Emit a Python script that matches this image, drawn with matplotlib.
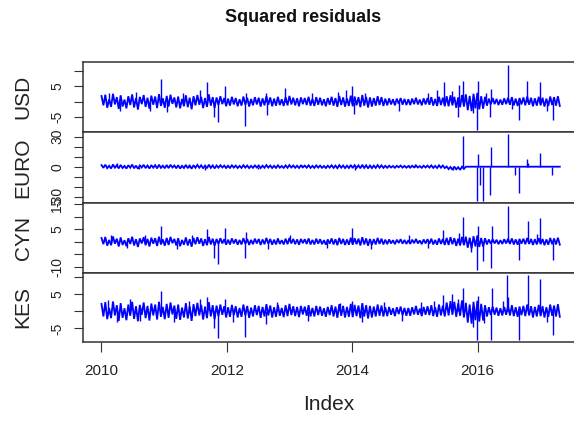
import numpy as np
import matplotlib
matplotlib.use("Agg")
import matplotlib.pyplot as plt

plt.rcParams['font.family'] = ['Liberation Sans', 'DejaVu Sans']

# index range of the residual series (decimal years)
t_start, t_end = 2010.0, 2017.31

# base band of each residual series, sampled evenly over the index range
usd_base = [1.9, -1.2, 2.3, -2.0, 0.8, -1.7, 2.6, -0.9, 1.5, -2.4,
            2.1, -1.6, 0.7, -2.2, 1.8, -1.1, 2.4, -1.9, 1.2, -2.6,
            1.6, -0.8, 2.2, -1.7, 1.3, -2.3, 2.0, -1.0, 1.7, -2.1,
            2.5, -1.4, 1.1, -2.0, 1.9, -1.6, 2.3, -0.7, 1.4, -1.9,
            1.7, -2.2, 0.9, -1.5, 2.1, -1.8, 1.3, -2.5, 1.8, -1.2,
            2.2, -1.0, 1.6, -2.1, 1.2, -1.7, 2.4, -1.3, 1.5, -2.0,
            1.4, -1.1, 1.8, -0.8, 1.2, -1.5, 1.0, -1.3, 1.6, -0.9,
            1.2, -1.5, 0.8, -1.3, 1.7, -1.0, 1.3, -1.6, 0.9, -1.2,
            1.5, -0.9, 1.3, -1.6, 1.1, -1.2, 1.8, -1.0, 1.4, -1.5,
            1.0, -1.3, 1.6, -1.1, 0.8, -1.4, 1.5, -1.2, 1.9, -0.9,
            1.3, -1.2, 1.1, -1.5, 1.4, -0.8, 1.2, -1.1, 1.6, -1.3,
            0.9, -1.4, 1.5, -1.0, 1.3, -1.2, 0.8, -1.5, 1.2, -1.0,
            1.6, -1.3, 1.2, -1.7, 1.9, -1.1, 1.4, -1.6, 1.1, -1.4,
            2.0, -1.5, 1.7, -1.2, 1.5, -1.8, 2.2, -1.3, 1.6, -1.9,
            1.4, -1.6, 1.2, -1.3, 1.8, -1.1, 1.5, -1.4, 1.0, -1.2,
            1.1, -0.9, 0.8, -1.2, 1.0, -0.7, 1.2, -1.0, 0.9, -1.1,
            0.8, -1.1, 1.0, -0.8, 1.3, -0.9, 0.7, -1.2, 1.1, -0.9,
            1.2, -1.0, 1.5, -1.3, 0.9, -1.4, 1.6, -1.1, 1.3, -1.5,
            1.8, -1.5, 2.1, -1.2, 1.6, -2.0, 1.4, -1.8, 2.2, -1.6,
            2.4, -2.8, 1.9, -3.1, 2.6, -2.2, 2.9, -2.5, 1.8, -2.3,
            1.6, -1.3, 1.0, -0.9, 1.2, -0.8, 0.9, -1.1, 0.7, -1.0,
            1.1, -0.8, 1.3, -1.0, 1.5, -1.2, 1.0, -1.4, 1.2, -0.9,
            1.4, -1.2, 1.7, -1.0, 1.3, -1.5, 1.1, -1.3, 1.6, -1.2,
            1.3, -1.6, 1.0, -1.4, 1.7, -1.1, 1.5, -1.3, 1.8, -1.4]

euro_base = [1.6, -1.1, 2.0, -1.5, 0.9, -1.8, 2.2, -1.0, 1.4, -1.7,
             1.8, -1.3, 0.8, -1.9, 1.5, -1.0, 2.1, -1.6, 1.1, -2.0,
             1.3, -0.8, 1.9, -1.4, 1.2, -1.8, 1.6, -1.0, 1.5, -1.7,
             2.0, -1.2, 1.0, -1.6, 1.7, -1.4, 1.9, -0.8, 1.2, -1.6,
             1.5, -1.8, 0.9, -1.3, 1.8, -1.5, 1.2, -2.0, 1.5, -1.1,
             1.8, -1.0, 1.4, -1.7, 1.1, -1.5, 2.0, -1.2, 1.3, -1.7,
             1.2, -1.0, 1.5, -0.8, 1.1, -1.3, 0.9, -1.2, 1.4, -0.9,
             1.1, -1.3, 0.8, -1.2, 1.5, -0.9, 1.2, -1.4, 0.8, -1.1,
             1.3, -0.8, 1.2, -1.4, 1.0, -1.1, 1.6, -0.9, 1.2, -1.3,
             0.9, -1.2, 1.4, -1.0, 0.7, -1.2, 1.3, -1.1, 1.6, -0.8,
             1.2, -1.1, 1.0, -1.3, 1.2, -0.7, 1.1, -1.0, 1.4, -1.2,
             0.8, -1.2, 1.3, -0.9, 1.1, -1.1, 0.7, -1.3, 1.0, -0.9,
             1.4, -1.2, 1.1, -1.5, 1.6, -1.0, 1.2, -1.4, 1.0, -1.3,
             1.7, -1.3, 1.5, -1.1, 1.3, -1.6, 1.9, -1.2, 1.4, -1.7,
             1.2, -1.4, 1.1, -1.2, 1.6, -1.0, 1.3, -1.2, 0.9, -1.1,
             1.0, -0.8, 0.7, -1.1, 0.9, -0.6, 1.1, -0.9, 0.8, -1.0,
             0.7, -1.0, 0.9, -0.7, 1.2, -0.8, 0.6, -1.1, 1.0, -0.8,
             1.1, -0.9, 1.3, -1.2, 0.8, -1.3, 1.4, -1.0, 1.2, -1.4,
             0.2, -2.4, -0.3, -3.0, 0.1, -2.6, -0.5, -3.2, 0.0, -2.2,
             0.0, 0.0, 0.0, 0.0, 0.0, 0.0, 0.0, 0.0, 0.0, 0.0,
             0.0, 0.0, 0.0, 0.0, 0.0, 0.0, 0.0, 0.0, 0.0, 0.0,
             0.0, 0.0, 0.0, 0.0, 0.0, 0.0, 0.0, 0.0, 0.0, 0.0,
             0.0, 0.0, 0.0, 0.0, 0.0, 0.0, 0.0, 0.0, 0.0, 0.0,
             0.0, 0.0, 0.0, 0.0, 0.0, 0.0, 0.0, 0.0, 0.0, 0.0]

cyn_base = [1.5, -1.0, 1.9, -1.6, 0.7, -1.4, 2.1, -0.8, 1.2, -1.9,
            1.7, -1.3, 0.6, -1.8, 1.4, -0.9, 2.0, -1.5, 1.0, -2.1,
            1.3, -0.7, 1.8, -1.4, 1.1, -1.9, 1.6, -0.8, 1.4, -1.7,
            2.0, -1.1, 0.9, -1.6, 1.5, -1.3, 1.9, -0.6, 1.1, -1.5,
            1.4, -1.8, 0.7, -1.2, 1.7, -1.5, 1.0, -2.0, 1.5, -1.0,
            1.8, -0.8, 1.3, -1.7, 1.0, -1.4, 1.9, -1.1, 1.2, -1.6,
            1.1, -0.9, 1.4, -0.7, 1.0, -1.2, 0.8, -1.1, 1.3, -0.7,
            1.0, -1.2, 0.7, -1.1, 1.4, -0.8, 1.1, -1.3, 0.7, -1.0,
            1.2, -0.7, 1.1, -1.3, 0.9, -1.0, 1.5, -0.8, 1.1, -1.2,
            0.8, -1.1, 1.3, -0.9, 0.6, -1.1, 1.2, -1.0, 1.5, -0.7,
            1.1, -1.0, 0.9, -1.2, 1.1, -0.6, 1.0, -0.9, 1.3, -1.1,
            0.7, -1.1, 1.2, -0.8, 1.0, -1.0, 0.6, -1.2, 0.9, -0.8,
            1.3, -1.1, 1.0, -1.4, 1.5, -0.9, 1.1, -1.3, 0.9, -1.2,
            1.6, -1.2, 1.4, -1.0, 1.2, -1.5, 1.8, -1.1, 1.3, -1.6,
            1.1, -1.3, 1.0, -1.1, 1.5, -0.9, 1.2, -1.1, 0.8, -1.0,
            0.9, -0.7, 0.6, -1.0, 0.8, -0.5, 1.0, -0.8, 0.7, -0.9,
            0.6, -0.9, 0.8, -0.6, 1.1, -0.7, 0.5, -1.0, 0.9, -0.7,
            1.0, -0.8, 1.2, -1.1, 0.7, -1.2, 1.3, -0.9, 1.1, -1.3,
            1.5, -1.3, 1.8, -1.0, 1.4, -1.7, 1.2, -1.5, 1.9, -1.4,
            2.0, -2.4, 1.6, -2.7, 2.2, -1.9, 2.5, -2.1, 1.5, -2.0,
            1.4, -1.1, 0.9, -0.8, 1.0, -0.7, 0.8, -1.0, 0.6, -0.9,
            1.0, -0.7, 1.2, -0.9, 1.3, -1.1, 0.9, -1.2, 1.1, -0.8,
            1.2, -1.0, 1.5, -0.9, 1.1, -1.3, 1.0, -1.1, 1.4, -1.0,
            1.1, -1.4, 0.9, -1.2, 1.5, -1.0, 1.3, -1.1, 1.6, -1.2]

kes_base = [2.2, -1.5, 2.7, -2.3, 1.0, -2.0, 2.9, -1.2, 1.8, -2.8,
            2.4, -1.9, 0.9, -2.6, 2.0, -1.3, 2.8, -2.2, 1.5, -2.9,
            1.9, -1.0, 2.6, -2.0, 1.6, -2.7, 2.3, -1.2, 2.0, -2.4,
            2.8, -1.6, 1.3, -2.3, 2.2, -1.9, 2.6, -0.9, 1.7, -2.2,
            2.0, -2.5, 1.1, -1.8, 2.4, -2.1, 1.5, -2.8, 2.1, -1.4,
            2.5, -1.2, 1.9, -2.4, 1.4, -2.0, 2.7, -1.5, 1.8, -2.3,
            1.7, -1.4, 2.0, -1.0, 1.5, -1.8, 1.2, -1.6, 1.9, -1.1,
            1.5, -1.8, 1.0, -1.6, 2.0, -1.2, 1.6, -1.9, 1.1, -1.5,
            1.8, -1.1, 1.6, -1.9, 1.3, -1.5, 2.1, -1.2, 1.7, -1.8,
            1.2, -1.6, 1.9, -1.3, 1.0, -1.7, 1.8, -1.4, 2.2, -1.1,
            1.5, -1.4, 1.3, -1.7, 1.6, -0.9, 1.4, -1.3, 1.8, -1.5,
            1.0, -1.5, 1.6, -1.1, 1.4, -1.3, 0.9, -1.6, 1.3, -1.1,
            1.8, -1.5, 1.4, -1.9, 2.1, -1.3, 1.6, -1.8, 1.3, -1.6,
            2.2, -1.7, 1.9, -1.4, 1.7, -2.0, 2.4, -1.5, 1.8, -2.1,
            1.6, -1.8, 1.4, -1.5, 2.0, -1.3, 1.7, -1.5, 1.2, -1.4,
            1.3, -1.0, 0.9, -1.4, 1.2, -0.8, 1.4, -1.1, 1.0, -1.3,
            1.0, -1.3, 1.2, -0.9, 1.6, -1.0, 0.8, -1.4, 1.3, -1.0,
            1.5, -1.1, 1.8, -1.4, 1.2, -1.6, 2.0, -1.2, 1.7, -1.5,
            2.6, -1.2, 3.0, -1.0, 2.8, -1.6, 2.4, -1.3, 3.2, -1.8,
            2.5, -3.3, 2.0, -3.6, 2.8, -2.6, 3.1, -3.0, 2.2, -2.7,
            1.8, -1.5, 1.2, -1.1, 1.4, -1.0, 1.1, -1.3, 0.9, -1.2,
            1.3, -1.0, 1.5, -1.2, 1.8, -1.4, 1.2, -1.6, 1.4, -1.1,
            1.6, -1.4, 2.0, -1.2, 1.5, -1.8, 1.3, -1.5, 1.9, -1.4,
            1.5, -1.8, 1.2, -1.6, 2.0, -1.3, 1.7, -1.5, 2.1, -1.6]

# spikes: dates and values
usd_spike_t = [2010.12, 2010.30, 2010.55, 2010.78, 2010.95, 2011.05, 2011.30, 2011.57,
               2011.68, 2011.79, 2011.86, 2011.97, 2012.29, 2012.31, 2012.62, 2012.64,
               2012.93, 2013.35, 2013.78, 2013.90, 2014.00, 2014.02, 2014.20, 2014.75,
               2015.20, 2015.35, 2015.46, 2015.59, 2015.68, 2015.70, 2015.77, 2015.93,
               2015.985, 2016.00, 2016.14, 2016.20, 2016.22, 2016.48, 2016.55, 2016.66,
               2016.78, 2016.99, 2017.10, 2017.20]
usd_spike_v = [3.0, -3.2, 3.1, -2.9, 7.6, -3.3, 2.9, 3.8,
               6.6, -5.1, -6.8, 5.1, -8.0, 3.0, 3.0, -4.5,
               4.5, 2.8, 3.2, 4.0, 5.1, -4.2, 2.8, -3.2,
               2.9, 4.0, 6.4, 3.5, -5.0, 5.5, 6.8, -3.8,
               -9.3, 6.9, 2.8, -5.0, 4.2, 12.2, -2.5, -6.0,
               6.8, 6.4, -3.0, -6.0]

euro_spike_t = [2010.25, 2010.60, 2011.40, 2011.65, 2012.00, 2012.50, 2013.20, 2014.05,
                2014.90, 2015.00, 2015.60, 2015.77, 2015.985, 2016.00, 2016.04, 2016.09,
                2016.20, 2016.22, 2016.48, 2016.60, 2016.66, 2016.78, 2016.80, 2016.99,
                2017.18]
euro_spike_v = [3.5, -2.5, 2.8, -3.0, 2.2, -2.4, 2.0, -3.2,
                2.2, 3.0, -3.5, 31.0, -34.0, 13.0, -18.0, -34.0,
                -28.0, 20.0, 33.0, -8.0, -26.0, 8.0, 4.0, 14.0,
                -8.0]

cyn_spike_t = [2010.15, 2010.40, 2010.70, 2010.95, 2011.20, 2011.45, 2011.68, 2011.79,
               2011.86, 2011.97, 2012.29, 2012.31, 2012.65, 2013.00, 2013.60, 2014.00,
               2014.30, 2014.90, 2015.20, 2015.45, 2015.70, 2015.77, 2015.90, 2015.985,
               2016.00, 2016.08, 2016.21, 2016.23, 2016.48, 2016.66, 2016.80, 2016.95,
               2016.99, 2017.20]
cyn_spike_v = [2.8, -2.6, 2.5, 6.2, -2.8, 2.6, 5.1, -6.4,
               -9.0, 5.5, -6.7, 3.8, -3.0, 2.5, -2.5, 5.5,
               -3.0, 2.5, -2.6, 4.5, 3.5, 10.0, -4.0, -11.2,
               6.2, -7.7, -10.5, 6.2, 14.4, -7.3, 8.3, 3.2,
               9.4, -7.3]

kes_spike_t = [2010.10, 2010.25, 2010.45, 2010.62, 2010.95, 2011.15, 2011.40, 2011.57,
               2011.68, 2011.79, 2011.86, 2011.97, 2012.10, 2012.29, 2012.62, 2012.80,
               2013.30, 2013.80, 2014.00, 2014.15, 2014.50, 2014.80, 2015.10, 2015.30,
               2015.45, 2015.59, 2015.68, 2015.77, 2015.93, 2015.985, 2016.00, 2016.10,
               2016.21, 2016.23, 2016.40, 2016.47, 2016.49, 2016.66, 2016.80, 2016.99,
               2017.10, 2017.20]
kes_spike_v = [3.2, -3.0, 3.5, -2.8, 6.0, -3.0, 3.0, 3.5,
               4.2, -5.0, -7.8, 3.5, -3.0, -7.5, -3.8, 2.8,
               -2.8, 2.5, 3.0, -3.0, 2.6, -2.8, 2.8, 3.0,
               4.7, 5.2, 3.5, 6.8, -4.5, -8.3, 4.4, -3.5,
               -8.4, 6.8, 3.0, 10.7, 4.3, -8.4, 10.7, 9.4,
               -3.0, -7.0]

series_names = ["USD", "EURO", "CYN", "KES"]
bases = [usd_base, euro_base, cyn_base, kes_base]
spikes = [(usd_spike_t, usd_spike_v), (euro_spike_t, euro_spike_v),
          (cyn_spike_t, cyn_spike_v), (kes_spike_t, kes_spike_v)]

y_limits = [(-10.07, 13.06), (-36.0, 34.4), (-12.4, 15.6), (-9.0, 11.35)]
y_ticks = [[-5, 0, 5, 10], [-30, -20, -10, 0, 10, 20, 30],
           [-10, -5, 0, 5, 10, 15], [-5, 0, 5, 10]]
y_ticklabels = [["-5", "", "5", ""], ["-30", "", "", "0", "", "", "30"],
                ["-10", "", "", "5", "", "15"], ["-5", "", "5", ""]]
x_ticks = [2010, 2012, 2014, 2016]

# layout in pixels (figure 574 x 421)
W, H = 574, 421
left_px, right_px = 83.3, 578.0
edges_px = [62.0, 132.3, 202.7, 272.7, 342.0]
frame_col = "#333333"

fig = plt.figure(figsize=(W / 100, H / 100), dpi=100)

for i, name in enumerate(series_names):
    top, bot = edges_px[i], edges_px[i + 1]
    ax = fig.add_axes([left_px / W, 1 - bot / H, (right_px - left_px) / W, (bot - top) / H])

    base = np.array(bases[i], dtype=float)
    t_base = np.linspace(t_start, t_end, len(base))
    ax.plot(t_base, base, color="#0000FF", lw=1.3, solid_joinstyle="miter")
    st, sv = spikes[i]
    ax.vlines(st, 0, sv, color="#0000FF", lw=1.0)

    ax.set_xlim(2009.71, 2017.60)
    ax.set_ylim(*y_limits[i])
    ax.set_yticks(y_ticks[i])
    ax.set_yticklabels(y_ticklabels[i], rotation=90, va="center", fontsize=10, color="#222222")
    ax.tick_params(axis="y", direction="out", length=6.8, width=0.8, color=frame_col, pad=7)

    for sp in ax.spines.values():
        sp.set_color(frame_col)
        sp.set_linewidth(1.1)

    if i < 3:
        ax.set_xticks([])
    else:
        ax.set_xticks(x_ticks)
        ax.set_xticklabels([str(x) for x in x_ticks], fontsize=11, color="#222222")
        ax.tick_params(axis="x", direction="out", length=7.5, width=0.8, color=frame_col, pad=8)

    fig.text(23 / W, 1 - (top + bot) / 2 / H, name, rotation=90, ha="center", va="center",
             fontsize=15, color="#222222")

fig.text(303 / W, 1 - 18 / H, "Squared residuals", ha="center", va="center",
         fontsize=13, fontweight="bold", color="#111111")
fig.text(329 / W, 1 - 404 / H, "Index", ha="center", va="center", fontsize=15, color="#222222")

fig.savefig("out.png", dpi=100)
